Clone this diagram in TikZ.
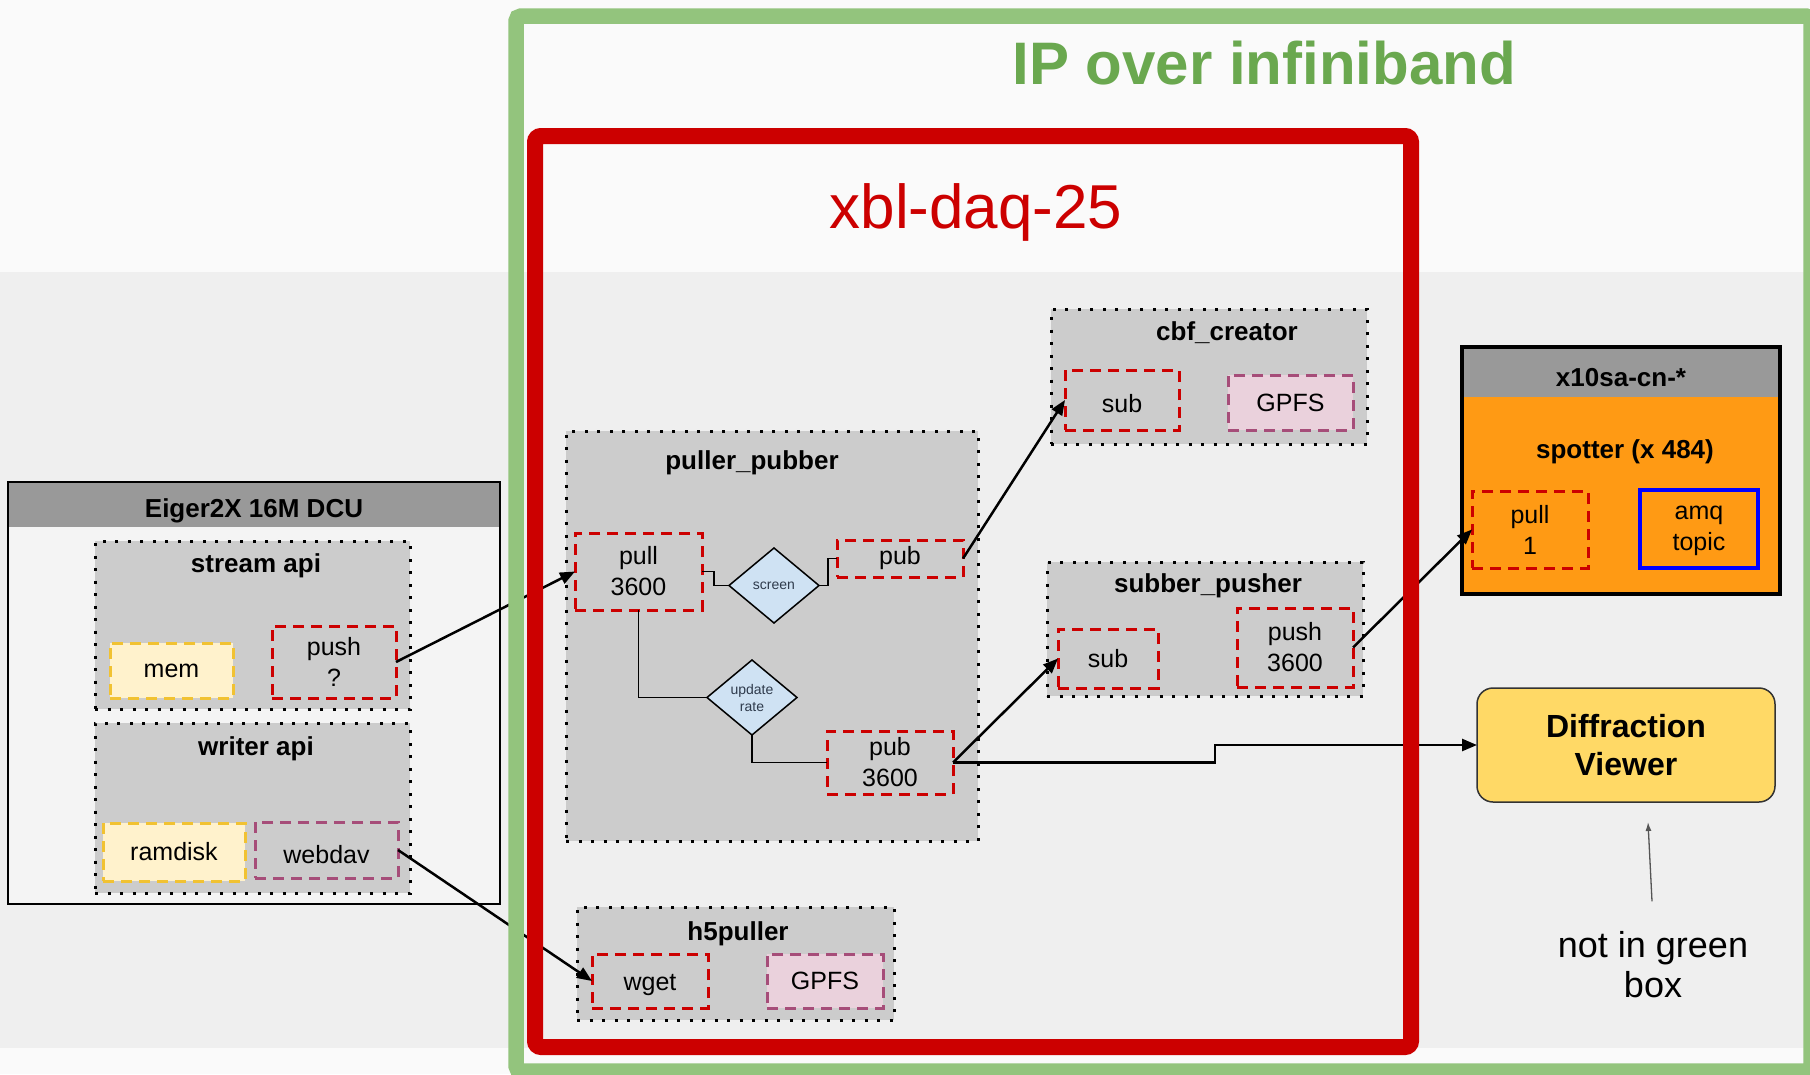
\documentclass[tikz,border=0pt]{standalone}
\usepackage{fontspec}
\setmainfont{Liberation Sans}
\usetikzlibrary{shapes.geometric,arrows.meta}

\definecolor{pagebg}{HTML}{FAFAFA}
\definecolor{bandbg}{HTML}{EFEFEF}
\definecolor{ibgreen}{HTML}{93C47D}
\definecolor{ibtext}{HTML}{6AA84F}
\definecolor{daqred}{HTML}{CC0000}
\definecolor{grpfill}{HTML}{CCCCCC}
\definecolor{dcufill}{HTML}{F4F4F4}
\definecolor{hdrgray}{HTML}{999999}
\definecolor{memfill}{HTML}{FFF2CC}
\definecolor{memline}{HTML}{F1C232}
\definecolor{gpfsfill}{HTML}{EAD1DC}
\definecolor{gpfsline}{HTML}{A64D79}
\definecolor{decfill}{HTML}{CFE2F3}
\definecolor{dectext}{HTML}{2F3B4C}
\definecolor{spotorange}{HTML}{FF9A14}
\definecolor{amqblue}{HTML}{0000FF}
\definecolor{dvfill}{HTML}{FFD966}
\definecolor{dvline}{HTML}{333333}
\definecolor{notegray}{HTML}{555555}

\begin{document}
\begin{tikzpicture}[x=1pt,y=-1pt,
  every node/.style={inner sep=0pt, outer sep=0pt, align=center},
  txt/.style={font=\fontsize{25}{31}\selectfont},
  group/.style={rectangle, fill=grpfill, draw=black, line width=3pt,
    dash pattern=on 3pt off 9.5pt},
  grouptitle/.style={anchor=base, font=\bfseries\fontsize{26}{30}\selectfont},
  redbox/.style={rectangle, txt, draw=daqred, line width=3pt,
    dash pattern=on 11pt off 7pt},
  membox/.style={redbox, draw=memline, fill=memfill},
  gpfsbox/.style={redbox, draw=gpfsline, fill=gpfsfill},
  davbox/.style={redbox, draw=gpfsline},
  decision/.style={diamond, draw=black, line width=1.5pt, fill=decfill,
    text=dectext, font=\fontsize{14}{17}\selectfont},
  flow/.style={draw=black, line width=2.5pt, -{Triangle[length=15pt,width=12pt]}},
  link/.style={draw=black, line width=1.5pt},
  notearrow/.style={draw=notegray, line width=1.3pt, -{Latex[length=9pt,width=6pt]}},
  hostbox/.style={rectangle, draw=black},
]
\useasboundingbox (0,0) rectangle (1810,1074);

% page background with the darker middle band
\fill[pagebg] (0,0) rectangle (1810,1074);
\fill[bandbg] (0,272) rectangle (1810,1048);

% frame titles
\node[anchor=base, text=ibtext, font=\bfseries\fontsize{60}{66}\selectfont] (ibtitle) at (1264,84) {IP over infiniband};
\node[anchor=base, text=daqred, font=\fontsize{62}{68}\selectfont] (daqtitle) at (976,228) {xbl-daq-25};

% ---------------- detector control unit ----------------
\node[hostbox, fill=dcufill, line width=2.5pt, minimum width=492pt, minimum height=422pt,
  path picture={\fill[hdrgray] (path picture bounding box.north west) rectangle ([yshift=-45pt]path picture bounding box.north east);}]
  (eiger) at (254,693) {};
\node[anchor=base, font=\bfseries\fontsize{26}{30}\selectfont] (eigertitle) at (254,517) {Eiger2X 16M DCU};

\node[group, minimum width=315pt, minimum height=168pt] (stream) at (252.5,625) {};
\node[grouptitle] (streamtitle) at (256,572) {stream api};
\node[membox, minimum width=123pt, minimum height=55pt] (mem) at (171.5,670.5) {mem};
\node[redbox, minimum width=124pt, minimum height=72pt] (push) at (334,662) {push\\?};

\node[group, minimum width=315pt, minimum height=170pt] (writer) at (252.5,808) {};
\node[grouptitle] (writertitle) at (256,755) {writer api};
\node[membox, minimum width=142pt, minimum height=58pt] (ramdisk) at (174,852) {ramdisk};
\node[davbox, minimum width=143pt, minimum height=56pt, text height=26pt, text depth=0pt] (webdav) at (326.5,850) {webdav};

% ---------------- puller_pubber ----------------
\node[group, minimum width=412pt, minimum height=410pt] (pp) at (772,636) {};
\node[grouptitle] (pptitle) at (752,469) {puller\_pubber};
\node[redbox, minimum width=127pt, minimum height=77pt] (pull36) at (638.5,571.5) {pull\\3600};
\node[decision, minimum width=90pt, minimum height=75pt] (screen) at (774,585.5) {screen};
\node[redbox, minimum width=126pt, minimum height=37pt] (pub) at (900,558.5) {pub};
\node[decision, minimum width=90pt, minimum height=75pt] (update) at (752,697.5) {update\\rate};
\node[redbox, minimum width=126pt, minimum height=63pt] (pub36) at (890,762.5) {pub\\3600};

% ---------------- h5puller ----------------
\node[group, minimum width=317pt, minimum height=113pt] (h5) at (735.5,963.5) {};
\node[grouptitle] (h5title) at (738,940) {h5puller};
\node[redbox, minimum width=116pt, minimum height=54pt, text height=24pt, text depth=5pt] (wget) at (650,981) {wget};
\node[gpfsbox, minimum width=116pt, minimum height=54pt] (h5gpfs) at (825,981) {GPFS};

% ---------------- cbf_creator ----------------
\node[group, minimum width=316pt, minimum height=135pt] (cbf) at (1209,376.5) {};
\node[grouptitle] (cbftitle) at (1227,340) {cbf\_creator};
\node[redbox, minimum width=114pt, minimum height=60pt, text height=24pt, text depth=0pt] (cbfsub) at (1122,400) {sub};
\node[gpfsbox, minimum width=125pt, minimum height=55pt] (cbfgpfs) at (1290.5,402.5) {GPFS};

% ---------------- subber_pusher ----------------
\node[group, minimum width=316pt, minimum height=134pt] (sp) at (1205,629) {};
\node[grouptitle] (sptitle) at (1208,592) {subber\_pusher};
\node[redbox, minimum width=100pt, minimum height=59pt] (spsub) at (1108,658.5) {sub};
\node[redbox, minimum width=116pt, minimum height=79pt] (sppush) at (1295,647.5) {push\\3600};

% ---------------- compute nodes ----------------
\node[hostbox, fill=spotorange, line width=4pt, minimum width=318pt, minimum height=247pt,
  path picture={\fill[hdrgray] (path picture bounding box.north west) rectangle ([yshift=-50pt]path picture bounding box.north east);}]
  (x10sa) at (1621,470.5) {};
\node[anchor=base, font=\bfseries\fontsize{26}{30}\selectfont] (x10satitle) at (1621,386) {x10sa-cn-*};
\node[anchor=base, font=\bfseries\fontsize{26}{30}\selectfont] (spotter) at (1625,458) {spotter (x 484)};
\node[redbox, minimum width=116pt, minimum height=77pt] (pull1) at (1530,529.5) {pull\\1};
\node[rectangle, txt, draw=amqblue, line width=4.5pt, minimum width=118pt, minimum height=78pt] (amq) at (1699,529) {\vphantom{l}amq\\topic};

% ---------------- viewer ----------------
\node[rectangle, fill=dvfill, draw=dvline, line width=1.5pt, rounded corners=16pt,
  minimum width=298pt, minimum height=114pt, font=\bfseries\fontsize{32}{38}\selectfont]
  (dv) at (1626,745) {Diffraction\\Viewer};
\node[font=\fontsize{36}{40}\selectfont] (note) at (1653,964.5) {not in green\\box};
\coordinate (notetip) at (1648,822);

% ---------------- data flow ----------------
\draw[flow] (push.east) -- (pull36.west);
\draw[flow] (webdav.east) -- (wget.west);
\draw[flow] (pub.east) -- (cbfsub.west);
\draw[flow] (pub36.east) -- (spsub.west);
\draw[flow] (pub36.east) -- ++(262,0) |- (dv.west);
\draw[flow] (sppush.east) -- (pull1.west);
\draw[link] (pull36.east) -- ++(12,0) |- (screen.west);
\draw[link] (screen.east) -- ++(9,0) |- (pub.west);
\draw[link] (pull36.south) |- (update.west);
\draw[link] (update.south) |- (pub36.west);
\draw[notearrow] (note.north) ++(-1,-30) -- (notetip);

% ---------------- network / host frames ----------------
\draw[ibgreen, line width=15.5pt, rounded corners=5pt] (516,16) rectangle (1811,1071);
\draw[daqred, line width=16pt, rounded corners=6pt] (535,136) rectangle (1411,1047);
\end{tikzpicture}
\end{document}
